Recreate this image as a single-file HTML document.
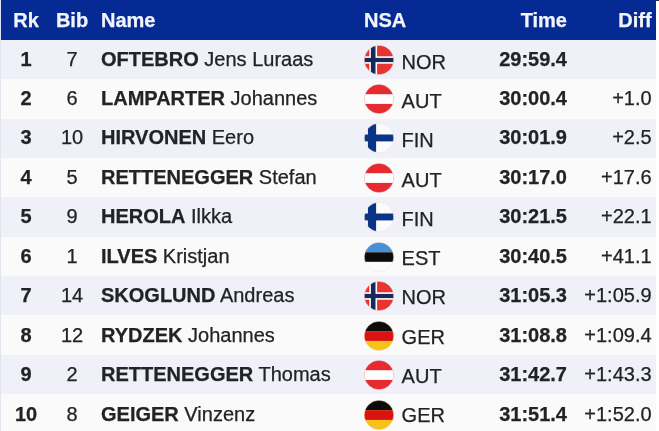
<!DOCTYPE html>
<html><head><meta charset="utf-8"><title>Results</title>
<style>
html,body{margin:0;padding:0;background:#fff;}
.ls{position:absolute;left:0;top:0;width:1px;height:431px;background:linear-gradient(#d9e5fb 0,#d9e5fb 40px,#e3e5ee 40px);}
body{width:659px;height:431px;overflow:hidden;position:relative;font-family:"Liberation Sans",Arial,sans-serif;font-size:20px;color:#212327;-webkit-text-stroke:0.25px #212327;}
.top{position:absolute;left:656px;top:0;width:3px;height:1px;background:#232d58;}
.tbl{position:absolute;left:1px;top:0;width:655px;height:431px;overflow:hidden;}
.hd{position:absolute;left:0;top:0;width:655px;height:40px;background:#062a94;color:#f2f5fb;font-weight:bold;-webkit-text-stroke:0.25px #f2f5fb;}
.r{position:absolute;left:0;width:655px;background:#fafafa;}
.r.o{background:#eff0f8;}
.c{position:absolute;top:0;height:39px;line-height:39px;white-space:nowrap;}
.hd .c{top:1px;}
.rk{left:0;width:50px;text-align:center;font-weight:bold;}
.bib{left:48px;width:46px;text-align:center;}
.nm{left:100px;}
.nm b{font-weight:bold;}
.nsa{left:363px;}
.fl{position:absolute;left:363.3px;top:5px;width:30px;height:30px;}
.cc{left:400.6px;}
.tm{right:89px;text-align:right;font-weight:bold;}
.df{right:4.4px;text-align:right;}
</style></head><body>
<div class="ls"></div><div class="top"></div>
<div class="tbl">
<div class="hd"><div class="c rk">Rk</div><div class="c bib">Bib</div><div class="c nm">Name</div><div class="c nsa">NSA</div><div class="c tm">Time</div><div class="c df">Diff</div></div>
<div class="r o" style="top:40px;height:39px"><div class="c rk" style="top:0px">1</div><div class="c bib" style="top:0px">7</div><div class="c nm" style="top:0px"><b>OFTEBRO</b> Jens Luraas</div><svg class="fl" style="top:4.50px" viewBox="0 0 30 30"><defs><clipPath id="k0"><circle cx="15" cy="15" r="14.6"/></clipPath></defs><g clip-path="url(#k0)"><rect width="30" height="30" fill="#e63430"/><rect x="5.3" width="7.8" height="30" fill="#fff"/><rect y="11.3" width="30" height="7.4" fill="#fff"/><rect x="6.9" width="4.6" height="30" fill="#16295a"/><rect y="12.9" width="30" height="4.2" fill="#16295a"/></g><circle cx="15" cy="15" r="14.7" fill="none" stroke="#efd9dc" stroke-opacity="0.55" stroke-width="0.7"/></svg><div class="c cc" style="top:3px">NOR</div><div class="c tm" style="top:0px">29:59.4</div><div class="c df" style="top:0px"></div></div>
<div class="r" style="top:79px;height:40px"><div class="c rk" style="top:0px">2</div><div class="c bib" style="top:0px">6</div><div class="c nm" style="top:0px"><b>LAMPARTER</b> Johannes</div><svg class="fl" style="top:4.96px" viewBox="0 0 30 30"><defs><clipPath id="k1"><circle cx="15" cy="15" r="14.6"/></clipPath></defs><g clip-path="url(#k1)"><rect width="30" height="30" fill="#e62a30"/><rect y="10.2" width="30" height="9.7" fill="#fff"/></g><circle cx="15" cy="15" r="14.7" fill="none" stroke="#efd9dc" stroke-opacity="0.55" stroke-width="0.7"/></svg><div class="c cc" style="top:3px">AUT</div><div class="c tm" style="top:0px">30:00.4</div><div class="c df" style="top:0px">+1.0</div></div>
<div class="r o" style="top:119px;height:39px"><div class="c rk" style="top:-1px">3</div><div class="c bib" style="top:-1px">10</div><div class="c nm" style="top:-1px"><b>HIRVONEN</b> Eero</div><svg class="fl" style="top:4.41px" viewBox="0 0 30 30"><defs><clipPath id="k2"><circle cx="15" cy="15" r="14.6"/></clipPath></defs><g clip-path="url(#k2)"><rect width="30" height="30" fill="#fbfbfb"/><rect x="3.9" width="8.2" height="30" fill="#0b3584"/><rect y="11.5" width="30" height="6.9" fill="#0b3584"/></g><circle cx="15" cy="15" r="14.7" fill="none" stroke="#efd9dc" stroke-opacity="0.55" stroke-width="0.7"/></svg><div class="c cc" style="top:2px">FIN</div><div class="c tm" style="top:-1px">30:01.9</div><div class="c df" style="top:-1px">+2.5</div></div>
<div class="r" style="top:158px;height:39px"><div class="c rk" style="top:0px">4</div><div class="c bib" style="top:0px">5</div><div class="c nm" style="top:0px"><b>RETTENEGGER</b> Stefan</div><svg class="fl" style="top:4.87px" viewBox="0 0 30 30"><defs><clipPath id="k3"><circle cx="15" cy="15" r="14.6"/></clipPath></defs><g clip-path="url(#k3)"><rect width="30" height="30" fill="#e62a30"/><rect y="10.2" width="30" height="9.7" fill="#fff"/></g><circle cx="15" cy="15" r="14.7" fill="none" stroke="#efd9dc" stroke-opacity="0.55" stroke-width="0.7"/></svg><div class="c cc" style="top:3px">AUT</div><div class="c tm" style="top:0px">30:17.0</div><div class="c df" style="top:0px">+17.6</div></div>
<div class="r o" style="top:197px;height:40px"><div class="c rk" style="top:0px">5</div><div class="c bib" style="top:0px">9</div><div class="c nm" style="top:0px"><b>HEROLA</b> Ilkka</div><svg class="fl" style="top:5.32px" viewBox="0 0 30 30"><defs><clipPath id="k4"><circle cx="15" cy="15" r="14.6"/></clipPath></defs><g clip-path="url(#k4)"><rect width="30" height="30" fill="#fbfbfb"/><rect x="3.9" width="8.2" height="30" fill="#0b3584"/><rect y="11.5" width="30" height="6.9" fill="#0b3584"/></g><circle cx="15" cy="15" r="14.7" fill="none" stroke="#efd9dc" stroke-opacity="0.55" stroke-width="0.7"/></svg><div class="c cc" style="top:3px">FIN</div><div class="c tm" style="top:0px">30:21.5</div><div class="c df" style="top:0px">+22.1</div></div>
<div class="r" style="top:237px;height:39px"><div class="c rk" style="top:0px">6</div><div class="c bib" style="top:0px">1</div><div class="c nm" style="top:0px"><b>ILVES</b> Kristjan</div><svg class="fl" style="top:4.78px" viewBox="0 0 30 30"><defs><clipPath id="k5"><circle cx="15" cy="15" r="14.6"/></clipPath></defs><g clip-path="url(#k5)"><rect width="30" height="30" fill="#fbfbfb"/><rect width="30" height="10.3" fill="#4a90d6"/><rect y="10.3" width="30" height="9.5" fill="#0c0c0c"/></g><circle cx="15" cy="15" r="14.7" fill="none" stroke="#efd9dc" stroke-opacity="0.55" stroke-width="0.7"/></svg><div class="c cc" style="top:2px">EST</div><div class="c tm" style="top:0px">30:40.5</div><div class="c df" style="top:0px">+41.1</div></div>
<div class="r o" style="top:276px;height:39px"><div class="c rk" style="top:0px">7</div><div class="c bib" style="top:0px">14</div><div class="c nm" style="top:0px"><b>SKOGLUND</b> Andreas</div><svg class="fl" style="top:5.24px" viewBox="0 0 30 30"><defs><clipPath id="k6"><circle cx="15" cy="15" r="14.6"/></clipPath></defs><g clip-path="url(#k6)"><rect width="30" height="30" fill="#e63430"/><rect x="5.3" width="7.8" height="30" fill="#fff"/><rect y="11.3" width="30" height="7.4" fill="#fff"/><rect x="6.9" width="4.6" height="30" fill="#16295a"/><rect y="12.9" width="30" height="4.2" fill="#16295a"/></g><circle cx="15" cy="15" r="14.7" fill="none" stroke="#efd9dc" stroke-opacity="0.55" stroke-width="0.7"/></svg><div class="c cc" style="top:2px">NOR</div><div class="c tm" style="top:0px">31:05.3</div><div class="c df" style="top:0px">+1:05.9</div></div>
<div class="r" style="top:315px;height:40px"><div class="c rk" style="top:1px">8</div><div class="c bib" style="top:1px">12</div><div class="c nm" style="top:1px"><b>RYDZEK</b> Johannes</div><svg class="fl" style="top:5.69px" viewBox="0 0 30 30"><defs><clipPath id="k7"><circle cx="15" cy="15" r="14.6"/></clipPath></defs><g clip-path="url(#k7)"><rect width="30" height="30" fill="#f5c31a"/><rect width="30" height="10.3" fill="#0c0c0c"/><rect y="10.3" width="30" height="9.6" fill="#dc1212"/></g><circle cx="15" cy="15" r="14.7" fill="none" stroke="#efd9dc" stroke-opacity="0.55" stroke-width="0.7"/></svg><div class="c cc" style="top:3px">GER</div><div class="c tm" style="top:1px">31:08.8</div><div class="c df" style="top:1px">+1:09.4</div></div>
<div class="r o" style="top:355px;height:39px"><div class="c rk" style="top:0px">9</div><div class="c bib" style="top:0px">2</div><div class="c nm" style="top:0px"><b>RETTENEGGER</b> Thomas</div><svg class="fl" style="top:5.15px" viewBox="0 0 30 30"><defs><clipPath id="k8"><circle cx="15" cy="15" r="14.6"/></clipPath></defs><g clip-path="url(#k8)"><rect width="30" height="30" fill="#e62a30"/><rect y="10.2" width="30" height="9.7" fill="#fff"/></g><circle cx="15" cy="15" r="14.7" fill="none" stroke="#efd9dc" stroke-opacity="0.55" stroke-width="0.7"/></svg><div class="c cc" style="top:2px">AUT</div><div class="c tm" style="top:0px">31:42.7</div><div class="c df" style="top:0px">+1:43.3</div></div>
<div class="r" style="top:394px;height:40px"><div class="c rk" style="top:1px">10</div><div class="c bib" style="top:1px">8</div><div class="c nm" style="top:1px"><b>GEIGER</b> Vinzenz</div><svg class="fl" style="top:5.60px" viewBox="0 0 30 30"><defs><clipPath id="k9"><circle cx="15" cy="15" r="14.6"/></clipPath></defs><g clip-path="url(#k9)"><rect width="30" height="30" fill="#f5c31a"/><rect width="30" height="10.3" fill="#0c0c0c"/><rect y="10.3" width="30" height="9.6" fill="#dc1212"/></g><circle cx="15" cy="15" r="14.7" fill="none" stroke="#efd9dc" stroke-opacity="0.55" stroke-width="0.7"/></svg><div class="c cc" style="top:2px">GER</div><div class="c tm" style="top:1px">31:51.4</div><div class="c df" style="top:1px">+1:52.0</div></div>
</div></body></html>
